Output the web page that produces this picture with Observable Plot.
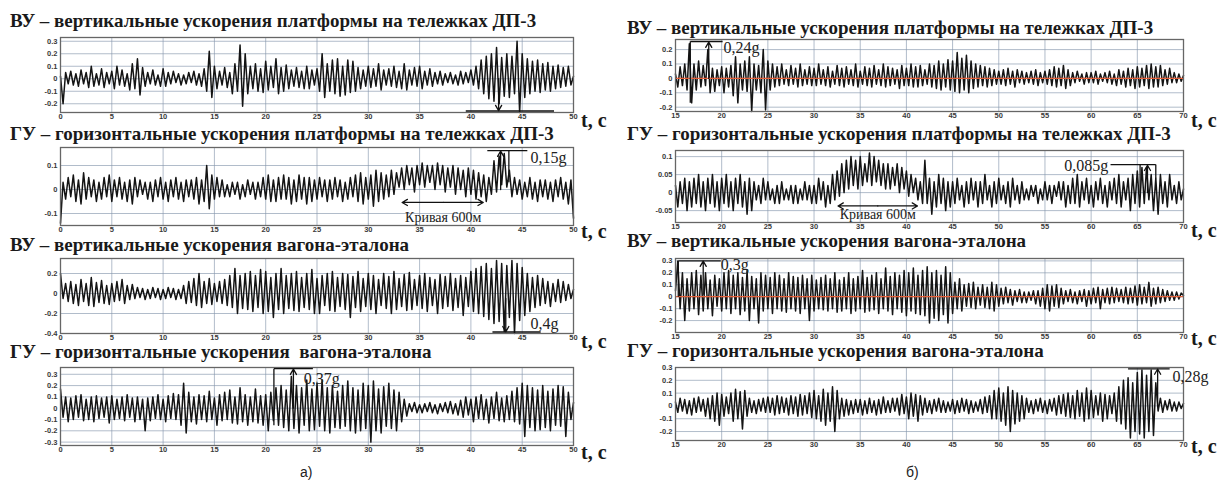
<!DOCTYPE html>
<html><head><meta charset="utf-8">
<script src="https://cdn.jsdelivr.net/npm/d3@7"></script>
<script src="https://cdn.jsdelivr.net/npm/@observablehq/plot@0.6"></script>
<style>
body{margin:0;background:#fff;}
#c{position:relative;width:1221px;height:480px;overflow:hidden;background:#fff;}
.ttl{position:absolute;font-family:"Liberation Serif","Times New Roman",serif;font-weight:bold;font-size:19px;color:#1a1a1a;white-space:pre;line-height:10px;}
.tc{position:absolute;font-family:"Liberation Serif","Times New Roman",serif;font-weight:bold;font-size:20px;color:#1a1a1a;line-height:14px;white-space:pre;}
.sub{position:absolute;font:14px "Liberation Sans",Arial,sans-serif;color:#222;line-height:16px;}
#c svg{position:absolute;overflow:visible;}
</style></head><body><div id="c"></div><script>
// sampling step of the recorded signals, s
const dt = 0.25;

// а) 0–50 s
const vuPlatA = [
.02,-.2,.05,-.04,.06,-.05,.04,-.06,.07,-.04,.05,-.07,.1,-.06,.04,-.05,.08,-.07,.05,-.04,
.06,-.08,.1,-.05,.07,-.06,.04,-.09,.12,-.08,.16,-.13,.09,-.06,.05,-.04,.07,-.05,.03,-.06,
.08,-.06,.05,-.04,.06,-.03,.04,-.05,.03,-.04,.05,-.03,.06,-.05,.04,-.06,.08,-.1,.22,-.15,
.1,-.08,.06,-.05,.09,-.07,.05,-.12,.12,-.1,.27,-.22,.2,-.12,.1,-.08,.12,-.1,.08,-.11,
.14,-.09,.1,-.07,.16,-.12,.09,-.1,.11,-.08,.07,-.06,.09,-.07,.06,-.08,.1,-.08,.07,-.05,
.08,-.1,.2,-.15,.12,-.1,.15,-.12,.16,-.14,.1,-.13,.15,-.11,.14,-.1,.09,-.08,.07,-.06,
.1,-.07,.08,-.06,.12,-.09,.07,-.05,.08,-.06,.1,-.07,.06,-.08,.12,-.09,.07,-.05,.09,-.06,
.1,-.08,.06,-.05,.08,-.06,.05,-.04,.06,-.05,.04,-.03,.05,-.04,.03,-.05,.06,-.04,.05,-.03,
.07,-.05,.1,-.08,.15,-.12,.18,-.16,.2,-.18,.25,-.2,.17,-.14,.2,-.15,.18,-.12,.3,-.27,
.2,-.15,.16,-.12,.14,-.1,.15,-.11,.12,-.09,.13,-.1,.1,-.08,.11,-.07,.09,-.06,.1,-.05,
.02];
const guPlatA = [
-.14,.03,-.04,.05,-.03,.06,-.05,.04,-.06,.07,-.04,.05,-.03,.04,-.05,.03,-.04,.05,-.03,.06,
-.05,.04,-.03,.05,-.04,.03,-.05,.04,-.06,.05,-.03,.04,-.02,.03,-.04,.03,-.05,.04,-.03,.05,
-.04,.03,-.05,.04,-.03,.05,-.04,.03,-.05,.04,-.03,.04,-.04,.05,-.06,.04,-.05,.1,-.08,.06,
-.04,.05,-.03,.04,-.03,.02,-.03,.03,-.02,.03,-.04,.02,-.03,.04,-.02,.03,-.04,.03,-.03,.05,
-.04,.06,-.05,.04,-.05,.05,-.04,.06,-.04,.05,-.06,.04,-.05,.06,-.04,.05,-.06,.05,-.05,.04,
-.04,.05,-.03,.04,-.05,.04,-.04,.05,-.03,.04,-.05,.03,-.04,.05,-.03,.06,-.05,.07,-.06,.05,
-.04,.06,-.07,.08,-.05,.07,-.04,.06,-.03,.08,-.02,.07,.01,.09,0,.1,.02,.09,-.01,.1,
.02,.11,.01,.1,.03,.1,0,.11,.02,.1,-.01,.09,.01,.1,-.02,.09,0,.08,-.03,.09,
-.02,.08,-.04,.07,-.03,.06,-.05,.05,-.02,.12,-.01,.14,.02,.15,.01,.08,-.03,.05,-.02,.04,
-.04,.03,-.03,.05,-.04,.03,-.05,.04,-.03,.04,-.04,.03,-.05,.04,-.03,.05,-.04,.03,-.06,.04,
-.12];
const vuWagA = [
.2,-.05,.1,-.08,.12,-.1,.09,-.12,.14,-.08,.1,-.12,.16,-.13,.11,-.09,.13,-.1,.08,-.11,
.1,-.08,.12,-.07,.14,-.1,.08,-.06,.09,-.05,.06,-.04,.05,-.06,.04,-.05,.06,-.04,.05,-.06,
.04,-.05,.06,-.04,.05,-.06,.04,-.05,.08,-.1,.12,-.09,.15,-.12,.2,-.14,.12,-.1,.15,-.11,
.1,-.08,.12,-.1,.14,-.12,.18,-.14,.25,-.2,.18,-.15,.2,-.16,.22,-.18,.18,-.14,.24,-.2,
.22,-.18,.16,-.24,.2,-.16,.25,-.2,.18,-.15,.2,-.17,.22,-.18,.16,-.14,.2,-.16,.24,-.2,
.15,-.2,.18,-.12,.2,-.17,.22,-.18,.16,-.13,.2,-.16,.19,-.24,.17,-.14,.22,-.18,.15,-.13,
.2,-.16,.18,-.2,.14,-.12,.2,-.15,.17,-.2,.22,-.16,.15,-.13,.19,-.17,.21,-.16,.14,-.12,
.18,-.15,.2,-.18,.16,-.12,.14,-.2,.19,-.15,.17,-.13,.2,-.17,.15,-.14,.18,-.22,.16,-.13,
.22,-.18,.25,-.2,.27,-.23,.3,-.26,.25,-.3,.33,-.28,.3,-.38,.28,-.24,.33,-.4,.3,-.27,
.26,-.22,.2,-.18,.16,-.14,.18,-.12,.15,-.1,.12,-.13,.1,-.08,.14,-.09,.12,-.07,.09,-.05,
.04];
const guWagA = [
.17,-.08,.1,-.12,.09,-.1,.11,-.08,.12,-.11,.08,-.1,.1,-.12,.11,-.09,.09,-.08,.1,-.13,
.11,-.1,.08,-.09,.1,-.11,.12,-.08,.09,-.12,.1,-.1,.08,-.2,.09,-.11,.1,-.09,.12,-.1,
.08,-.12,.11,-.09,.13,-.1,.12,-.15,.22,-.22,.14,-.12,.1,-.14,.12,-.1,.11,-.12,.15,-.1,
.09,-.15,.12,-.11,.14,-.1,.16,-.13,.1,-.14,.18,-.12,.12,-.15,.1,-.12,.17,-.13,.11,-.15,
.12,-.2,.14,-.11,.18,-.15,.2,-.17,.16,-.2,.28,-.18,.2,-.22,.18,-.15,.25,-.2,.17,-.19,
.22,-.16,.25,-.2,.18,-.22,.2,-.17,.15,-.18,.2,-.16,.24,-.2,.18,-.22,.16,-.2,.22,-.18,
.2,-.3,.24,-.2,.17,-.22,.19,-.16,.22,-.18,.16,-.2,.14,-.12,.08,-.07,.04,-.03,.05,-.04,
.03,-.04,.04,-.03,.05,-.04,.03,-.05,.04,-.03,.05,-.04,.06,-.05,.04,-.06,.07,-.08,.1,-.06,
.08,-.12,.1,-.09,.12,-.1,.08,-.13,.1,-.09,.14,-.11,.09,-.12,.11,-.1,.15,-.12,.18,-.14,
.22,-.25,.2,-.17,.18,-.2,.16,-.19,.2,-.17,.15,-.2,.17,-.15,.2,-.16,.19,-.25,.14,-.1,
.05];

// б) 15–70 s
const vuPlatB = [
.03,-.06,.08,-.05,.1,-.08,.24,-.17,.1,-.08,.12,-.06,.09,-.05,.2,-.1,.07,-.09,.06,-.05,
.08,-.1,.07,-.06,.09,-.12,.15,-.17,.1,-.08,.12,-.09,.15,-.23,.1,-.08,.09,-.1,.2,-.22,
.12,-.08,.1,-.06,.08,-.05,.1,-.04,.06,-.05,.09,-.04,.07,-.06,.1,-.05,.06,-.04,.08,-.05,
.07,-.05,.1,-.04,.06,-.05,.08,-.06,.05,-.04,.09,-.05,.07,-.06,.08,-.04,.06,-.05,.1,-.06,
.05,-.04,.08,-.05,.07,-.06,.09,-.04,.06,-.05,.1,-.06,.08,-.05,.07,-.04,.06,-.07,.09,-.05,
.07,-.05,.1,-.06,.08,-.06,.09,-.05,.06,-.04,.1,-.06,.09,-.07,.12,-.08,.1,-.06,.13,-.08,
.12,-.09,.18,-.1,.14,-.08,.16,-.1,.12,-.07,.1,-.06,.09,-.05,.08,-.06,.07,-.05,.06,-.04,
.05,-.04,.06,-.05,.07,-.04,.05,-.06,.06,-.03,.05,-.04,.04,-.03,.05,-.04,.06,-.05,.04,-.03,
.05,-.04,.06,-.05,.08,-.06,.07,-.05,.09,-.07,.06,-.05,.04,-.03,.05,-.02,.03,-.04,.04,-.03,
.04,-.03,.05,-.04,.03,-.02,.04,-.03,.05,-.04,.03,-.05,.06,-.04,.05,-.06,.07,-.05,.06,-.07,
.08,-.06,.07,-.05,.09,-.07,.1,-.06,.08,-.06,.09,-.05,.06,-.04,.07,-.03,.04,-.03,.03,-.02,
.02];
const guPlatB = [
.02,-.04,.03,-.03,.04,-.05,.03,-.04,.04,-.03,.05,-.04,.03,-.05,.04,-.03,.05,-.04,.03,-.05,
.04,-.03,.05,-.04,.03,-.05,.04,-.03,.05,-.04,.03,-.06,.04,-.05,.03,-.02,.02,-.03,.04,-.02,
.03,-.02,.01,-.03,.02,-.03,.03,-.02,.01,-.02,.02,-.03,.02,-.03,.01,-.02,.03,-.02,.02,-.03,
.02,-.03,.04,-.02,.03,-.04,.02,-.03,.05,-.02,.06,-.01,.08,0,.09,.01,.1,.02,.09,.01,
.1,.02,.08,.03,.11,.02,.1,.03,.09,.02,.08,.01,.08,.01,.07,.02,.08,0,.07,.01,
.06,-.01,.05,0,.04,-.02,.03,-.03,.09,-.03,.04,-.06,.03,-.04,.05,-.03,.04,-.05,.03,-.04,
.03,-.03,.04,-.02,.02,-.04,.03,-.03,.04,-.02,.03,-.04,.03,-.03,.05,-.02,.02,-.04,.03,-.03,
.04,-.02,.02,-.03,.03,-.04,.04,-.02,.02,-.03,.03,-.02,.01,-.02,.02,-.01,.02,-.03,.01,-.02,
.03,-.02,.02,-.03,.02,-.01,.03,-.02,.03,-.04,.02,-.03,.04,-.03,.05,-.04,.03,-.02,.04,-.03,
.02,-.04,.03,-.02,.04,-.03,.02,-.04,.03,-.02,.04,-.03,.05,-.04,.03,-.02,.04,-.05,.05,-.03,
.06,-.04,.07,-.03,.07,-.02,.05,-.05,.04,-.06,.05,-.03,.03,-.04,.05,-.02,.02,-.03,.03,-.02,
.01];
const vuWagB = [
.05,.3,-.1,.2,-.2,.15,-.12,.2,-.1,.22,-.15,.18,-.12,.2,-.1,.14,-.16,.18,-.08,.15,
-.12,.2,-.1,.22,-.14,.18,-.1,.2,-.15,.16,-.12,.22,-.2,.17,-.1,.15,-.22,.2,-.12,.18,
-.1,.16,-.14,.2,-.1,.18,-.12,.15,-.13,.2,-.1,.17,-.12,.16,-.14,.18,-.1,.15,-.2,.18,
-.12,.14,-.1,.16,-.11,.18,-.12,.15,-.1,.2,-.13,.14,-.12,.16,-.1,.2,-.14,.15,-.12,.17,
-.1,.22,-.13,.16,-.12,.18,-.11,.2,-.14,.15,-.1,.24,-.12,.17,-.15,.2,-.1,.18,-.13,.22,
-.16,.2,-.12,.24,-.14,.18,-.15,.22,-.16,.25,-.22,.2,-.18,.22,-.2,.18,-.15,.25,-.22,.2,
-.14,.12,-.1,.15,-.12,.1,-.08,.11,-.09,.12,-.1,.08,-.07,.1,-.09,.08,-.1,.12,-.12,.1,
-.08,.07,-.06,.08,-.05,.06,-.07,.05,-.04,.06,-.05,.04,-.05,.04,-.03,.05,-.06,.05,-.08,.07,
-.1,.1,-.12,.09,-.08,.1,-.09,.07,-.06,.05,-.04,.06,-.05,.04,-.06,.05,-.04,.06,-.08,.05,
-.06,.07,-.05,.08,-.1,.06,-.05,.07,-.06,.08,-.05,.07,-.04,.06,-.05,.08,-.06,.07,-.05,.09,
-.07,.1,-.06,.08,-.05,.12,-.08,.07,-.06,.08,-.05,.06,-.04,.05,-.03,.04,-.03,.04,-.02,.03,
.01];
const guWagB = [
.03,-.05,.06,-.04,.05,-.06,.04,-.07,.06,-.05,.07,-.04,.05,-.08,.06,-.1,.08,-.12,.1,-.15,
.09,-.08,.07,-.06,.1,-.12,.13,-.1,.11,-.18,.12,-.08,.06,-.05,.04,-.06,.05,-.04,.06,-.05,
.07,-.05,.06,-.07,.08,-.06,.07,-.05,.06,-.07,.08,-.06,.07,-.08,.09,-.07,.08,-.06,.1,-.09,
.12,-.1,.08,-.12,.13,-.15,.1,-.12,.15,-.2,.12,-.1,.06,-.08,.05,-.07,.04,-.06,.05,-.05,
.05,-.07,.04,-.06,.06,-.05,.04,-.07,.05,-.06,.07,-.05,.04,-.05,.06,-.04,.06,-.07,.09,-.06,
.07,-.1,.1,-.08,.09,-.12,.08,-.07,.06,-.05,.04,-.06,.05,-.04,.06,-.05,.04,-.05,.03,-.04,
.05,-.06,.04,-.05,.06,-.04,.05,-.06,.04,-.05,.03,-.04,.05,-.06,.07,-.05,.08,-.1,.12,-.1,
.14,-.12,.1,-.15,.15,-.2,.12,-.14,.1,-.12,.08,-.1,.06,-.05,.04,-.06,.05,-.04,.06,-.05,
.04,-.06,.05,-.04,.06,-.07,.08,-.06,.09,-.08,.1,-.09,.08,-.1,.12,-.08,.1,-.12,.14,-.1,
.12,-.09,.08,-.07,.1,-.12,.09,-.1,.08,-.06,.1,-.12,.15,-.14,.2,-.18,.22,-.25,.18,-.2,
.26,-.22,.28,-.25,.24,-.2,.28,-.23,.18,-.04,.06,-.05,.04,-.03,.05,-.04,.03,-.04,.03,-.02,
.02];

const titles = [
"ВУ – вертикальные ускорения платформы на тележках ДП-3",
"ГУ – горизонтальные ускорения платформы на тележках ДП-3",
"ВУ – вертикальные ускорения вагона-эталона",
"ГУ – горизонтальные ускорения  вагона-эталона",
"ВУ – вертикальные ускорения платформы на тележках ДП-3",
"ГУ – горизонтальные ускорения платформы на тележках ДП-3",
"ВУ – вертикальные ускорения вагона-эталона",
"ГУ – горизонтальные ускорения вагона-эталона"];
const series = [vuPlatA, guPlatA, vuWagA, guWagA, vuPlatB, guPlatB, vuWagB, guWagB];
const tStart = [0,0,0,0,15,15,15,15];
const tEnd = [50,50,50,50,70,70,70,70];
const yTicks = [
[-0.2,-0.1,0,0.1,0.2,0.3],
[-0.1,0,0.1],
[-0.4,-0.2,0,0.2],
[-0.3,-0.2,-0.1,0,0.1,0.2,0.3],
[-0.2,-0.1,0,0.1,0.2],
[-0.05,0,0.05,0.1],
[-0.2,-0.1,0,0.1,0.2,0.3],
[-0.2,-0.1,0,0.1,0.2,0.3]];
const yDomains = [[-0.27,0.33],[-0.15,0.175],[-0.4,0.35],[-0.33,0.36],[-0.23,0.27],[-0.083,0.117],[-0.3,0.32],[-0.27,0.3]];
const zeroLine = [false,false,false,false,true,false,true,false];
const timeLabel = "t, c";
const subLabels = ["а)","б)"];

// annotations (data coordinates: t, g)
const annLinks = [
 {p:0,x1:39.5,y1:-0.258,x2:48.1,y2:-0.258},
 {p:1,x1:41.6,y1:0.162,x2:45.5,y2:0.162},
 {p:1,x1:43.7,y1:0.162,x2:43.7,y2:0.03},
 {p:2,x1:42.1,y1:-0.385,x2:46.8,y2:-0.385},
 {p:3,x1:20.8,y1:0.35,x2:24.6,y2:0.35},
 {p:3,x1:20.8,y1:0.35,x2:20.8,y2:-0.15},
 {p:4,x1:16.6,y1:0.256,x2:20.1,y2:0.256},
 {p:4,x1:16.6,y1:0.256,x2:16.6,y2:-0.17},
 {p:5,x1:62.1,y1:0.078,x2:67,y2:0.078},
 {p:5,x1:67,y1:0.078,x2:67,y2:0.04},
 {p:5,x1:65.3,y1:0.078,x2:65.3,y2:0},
 {p:6,x1:15.3,y1:0.3,x2:19.9,y2:0.3},
 {p:6,x1:15.3,y1:0.3,x2:15.3,y2:0},
 {p:7,x1:64,y1:0.29,x2:68.5,y2:0.29}];
const annArrows = [
 {p:0,x1:42.7,y1:0,x2:42.7,y2:-0.255},
 {p:1,x1:42.9,y1:0,x2:42.9,y2:0.16},
 {p:1,x1:37.3,y1:-0.054,x2:33.3,y2:-0.054},
 {p:1,x1:37.3,y1:-0.054,x2:41.2,y2:-0.054},
 {p:2,x1:43.4,y1:-0.05,x2:43.4,y2:-0.383},
 {p:3,x1:22.7,y1:0,x2:22.7,y2:0.345},
 {p:4,x1:18.6,y1:0,x2:18.6,y2:0.252},
 {p:5,x1:36.9,y1:-0.037,x2:32.6,y2:-0.037},
 {p:5,x1:36.9,y1:-0.037,x2:41.2,y2:-0.037},
 {p:5,x1:66.1,y1:0,x2:66.1,y2:0.076},
 {p:6,x1:18,y1:0.02,x2:18,y2:0.298},
 {p:7,x1:67.2,y1:0,x2:67.2,y2:0.288}];
const annTexts = [
 {p:1,x:45.8,y:0.133,text:"0,15g",mid:false},
 {p:1,x:37.3,y:-0.117,text:"Кривая 600м",mid:true},
 {p:2,x:45.8,y:-0.3,text:"0,4g",mid:false},
 {p:3,x:23.7,y:0.26,text:"0,37g",mid:false},
 {p:4,x:20.2,y:0.215,text:"0,24g",mid:false},
 {p:5,x:57.1,y:0.075,text:"0,085g",mid:false},
 {p:5,x:36.9,y:-0.061,text:"Кривая 600м",mid:true},
 {p:6,x:19.9,y:0.27,text:"0,3g",mid:false},
 {p:7,x:68.8,y:0.23,text:"0,28g",mid:false}];

// layout (pixels) — frame boxes
const frames = [
 {fx:60,fy:37,fw:513,fh:75},{fx:60,fy:147,fw:513,fh:78},{fx:60,fy:258,fw:513,fh:75},{fx:60,fy:367,fw:513,fh:78},
 {fx:675,fy:39,fw:508,fh:72},{fx:675,fy:150,fw:508,fh:72},{fx:675,fy:258,fw:508,fh:74},{fx:675,fy:367,fw:508,fh:73}];
const titleBase = [27,140,251,358,34,140,247,357];
const tcCenter = [120,231,341,452,120,230,338,446];

const serif = "Liberation Serif, Times New Roman, serif";
const c = document.getElementById("c");
const ML=32, MR=50, MT=4, MB=14;
const fmt = d => String(d);
frames.forEach((f,k) => {
  const data = series[k].map((v,i) => ({t: tStart[k] + i*dt, v}));
  const xt = d3.range(tStart[k], tEnd[k]+0.001, 5);
  const marks = [
    Plot.gridX(xt, {stroke:"#8496ac", strokeOpacity:0.8, strokeWidth:0.8}),
    Plot.gridY(yTicks[k], {stroke:"#8496ac", strokeOpacity:0.8, strokeWidth:0.8}),
    Plot.line(data, {x:"t", y:"v", stroke:"#141414", strokeWidth:1.5})
  ];
  if (zeroLine[k]) marks.push(Plot.ruleY([0], {stroke:"#e5603a", strokeWidth:1.2}));
  marks.push(Plot.frame({stroke:"#666", strokeWidth:1.3}));
  marks.push(Plot.link(annLinks.filter(d=>d.p===k), {x1:"x1",y1:"y1",x2:"x2",y2:"y2",stroke:"#111",strokeWidth:1.3}));
  marks.push(Plot.arrow(annArrows.filter(d=>d.p===k), {x1:"x1",y1:"y1",x2:"x2",y2:"y2",stroke:"#111",strokeWidth:1.3,headLength:7}));
  marks.push(Plot.text(annTexts.filter(d=>d.p===k && !d.mid), {x:"x",y:"y",text:"text",textAnchor:"start",fontFamily:serif,fontWeight:"normal",fontSize:16,fill:"#222"}));
  marks.push(Plot.text(annTexts.filter(d=>d.p===k && d.mid), {x:"x",y:"y",text:"text",textAnchor:"middle",fontFamily:serif,fontWeight:"normal",fontSize:14,fill:"#222"}));
  const svg = Plot.plot({
    width: f.fw+ML+MR, height: f.fh+MT+MB,
    marginLeft:ML, marginRight:MR, marginTop:MT, marginBottom:MB,
    x:{domain:[tStart[k],tEnd[k]], ticks:xt, tickSize:0, tickPadding:1, tickFormat:fmt, label:null},
    y:{domain:yDomains[k], ticks:yTicks[k], tickSize:0, tickPadding:3, tickFormat:fmt, label:null},
    style:{fontFamily:"Liberation Sans, Arial, sans-serif", fontSize:"7.5px", fontWeight:"bold", color:"#3a3a3a", background:"transparent", overflow:"visible"},
    marks
  });
  svg.style.left = (f.fx-ML)+"px";
  svg.style.top = (f.fy-MT)+"px";
  c.appendChild(svg);
});
frames.forEach((f,k) => {
  const t = document.createElement("div");
  t.className = "ttl";
  t.textContent = titles[k];
  t.style.left = (k<4 ? 10 : 627)+"px";
  t.style.top = (titleBase[k]-11)+"px";
  c.appendChild(t);
  const u = document.createElement("div");
  u.className = "tc";
  u.textContent = timeLabel;
  u.style.left = (f.fx+f.fw+8)+"px";
  u.style.top = (tcCenter[k]-7)+"px";
  c.appendChild(u);
});
subLabels.forEach((s,i) => {
  const d = document.createElement("div");
  d.className = "sub";
  d.textContent = s;
  d.style.left = (i===0 ? 300 : 906)+"px";
  d.style.top = "464px";
  c.appendChild(d);
});
</script></body></html>
